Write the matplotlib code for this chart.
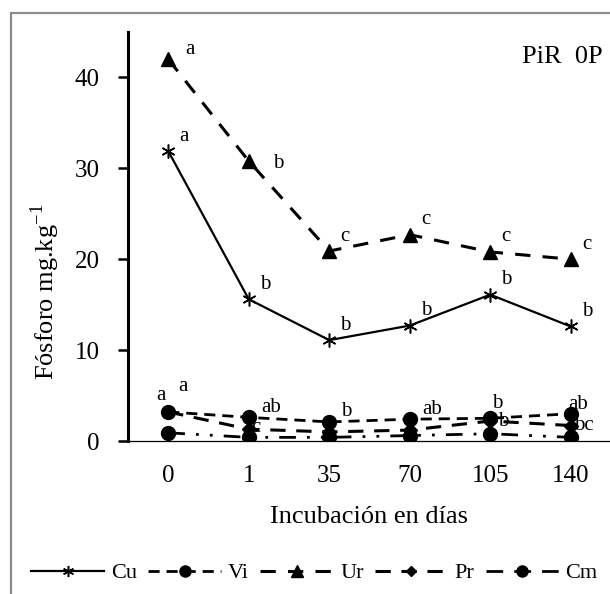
import matplotlib
matplotlib.use("Agg")
import matplotlib.pyplot as plt
from matplotlib.patches import Rectangle

plt.rcParams['font.family'] = ['Liberation Serif', 'DejaVu Serif']

# data
days = ['0', '1', '35', '70', '105', '140']
cu = [31.9, 15.6, 11.1, 12.7, 16.1, 12.6]
vi = [3.2, 2.6, 2.1, 2.4, 2.5, 3.0]
ur = [42.0, 30.8, 20.9, 22.7, 20.8, 20.0]
pr = [3.2, 1.3, 1.0, 1.2, 2.2, 1.7]
cm = [0.9, 0.4, 0.4, 0.6, 0.8, 0.4]

cu_lab = ['a', 'b', 'b', 'b', 'b', 'b']
ur_lab = ['a', 'b', 'c', 'c', 'c', 'c']
vi_lab = ['a', 'ab', 'b', 'ab', 'b', 'ab']
pr_lab = ['a', 'c', '', '', 'b', 'bc']

fig = plt.figure(figsize=(6.1, 5.94), dpi=100)
ax = fig.add_axes([128 / 610, 1 - 441 / 594, 483 / 610, 409 / 594])
x = list(range(len(days)))

ax.plot(x, cu, color='black', lw=1.6, marker=(6, 2, 0), ms=10, mew=1.1,
        label='Cu', zorder=3)
ax.plot(x, vi, color='black', lw=2.0, ls=(0, (4, 2.5)), marker='o', ms=10,
        label='Vi', zorder=5)
ax.plot(x, ur, color='black', lw=2.2, ls=(0, (5, 4)), marker='^', ms=10,
        label='Ur', zorder=3)
ax.plot(x, pr, color='black', lw=2.2, ls=(0, (5, 3.5)), marker='D', ms=7,
        label='Pr', zorder=4)
ax.plot(x, cm, color='black', lw=2.0, ls=(0, (6, 4, 1, 4, 1, 4)), marker='o',
        ms=10, label='Cm', zorder=4)

# significance letters
default_off = (16, 15)
offsets = {
    'ur': {0: (22, 10), 1: (29, -2)},
    'vi': {0: (-7, 16), 1: (22, 10), 2: (17, 10), 3: (22, 10), 4: (7, 15), 5: (7, 9)},
    'pr': {0: (15, 25), 1: (7, 2), 4: (13, 0), 5: (13, 0)},
}
for key, vals, labs in [('cu', cu, cu_lab), ('ur', ur, ur_lab),
                        ('vi', vi, vi_lab), ('pr', pr, pr_lab)]:
    for i, (v, t) in enumerate(zip(vals, labs)):
        if not t:
            continue
        off = offsets.get(key, {}).get(i, default_off)
        ax.annotate(t, (i, v), xytext=off, textcoords='offset pixels',
                    ha='center', va='center', fontsize=15, zorder=6)

ax.text(5.4, 42.3, 'PiR  0P', ha='right', va='center', fontsize=19)

ax.set_xlim(-0.5, 5.5)
ax.set_ylim(0, 45)
ax.set_xticks(x)
ax.set_xticklabels(days)
ax.set_yticks([0, 10, 20, 30, 40])
ax.tick_params(axis='x', length=0, pad=17, labelsize=18)
ax.tick_params(axis='y', length=7.2, width=1.8, pad=13, labelsize=18)
ax.spines['top'].set_visible(False)
ax.spines['right'].set_visible(False)
ax.spines['left'].set_linewidth(2.2)
ax.spines['bottom'].set_linewidth(0.9)
ax.set_xlabel('Incubación en días', fontsize=19, labelpad=14)
fig.text(45 / 610, 1 - 292 / 594, 'Fósforo mg.kg$^{\\mathregular{-1}}$',
         rotation=90, ha='center', va='center', fontsize=19)

fig.legend(loc='center left', bbox_to_anchor=(22 / 610, 1 - 573 / 594), ncol=5,
           frameon=False, fontsize=16, handlelength=3.3, handletextpad=0.3,
           columnspacing=0.5, borderaxespad=0, markerscale=0.8)

# grey outer frame
fig.patches.append(Rectangle((11 / 610, -0.1), 1.2, (594 - 13) / 594 + 0.1,
                             transform=fig.transFigure, fill=False,
                             edgecolor='#8c8c8c', lw=1.6))

fig.savefig('out.png', dpi=100)
